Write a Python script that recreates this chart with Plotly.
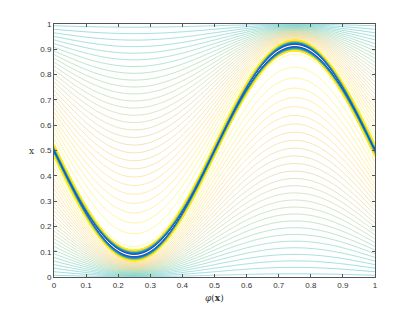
import numpy as np
import plotly.graph_objects as go

# --- values ---
curve_center = 0.5      # x of the ridge curve at phi = 0
curve_amp = 0.415       # amplitude of the ridge curve
band_half = 0.022       # half width (in x) of the dense blue band
band_power = 2.0
boundary_level = 0.42   # field value reached at x = 0 and x = 1
decay_power = 1.25
band_levels = (0.04, 0.99, 0.03)     # start, end, step of band contours
field_levels = (0.43, 0.99, 0.02)    # start, end, step of outer contours
x_ticks = [0, 0.1, 0.2, 0.3, 0.4, 0.5, 0.6, 0.7, 0.8, 0.9, 1]
y_ticks = [0, 0.1, 0.2, 0.3, 0.4, 0.5, 0.6, 0.7, 0.8, 0.9, 1]
parula = ['#352a87', '#0f5cdd', '#1481d6', '#06a4ca', '#2eb7a4',
          '#87bf77', '#d1bb59', '#fec832', '#f9fb0e']


def parula_at(v):
    rgb = np.array([[int(c[i:i + 2], 16) for i in (1, 3, 5)] for c in parula], float)
    pos = np.linspace(0, 1, len(parula))
    r, gg, b = (np.interp(v, pos, rgb[:, k]) for k in range(3))
    return f'rgb({r:.0f},{gg:.0f},{b:.0f})'


def sub_scale(lo, hi, n=25):
    return [[t, parula_at(lo + t * (hi - lo))] for t in np.linspace(0, 1, n)]


phi = np.linspace(0, 1, 321)
xs = np.linspace(0, 1, 801)
P, X = np.meshgrid(phi, xs)
g = curve_center - curve_amp * np.sin(2 * np.pi * P)
d = X - g
u = np.where(d >= 0, d / (1 - g), -d / g)
u = np.clip(u, 0, 1)
Z_band = np.round(np.clip(np.abs(d) / band_half, 0, 1) ** band_power, 4)
Z_field = np.round(boundary_level + (1 - boundary_level) * (1 - u ** decay_power), 4)

fig = go.Figure()
fig.add_trace(go.Contour(
    x=phi, y=xs, z=Z_field,
    colorscale=sub_scale(field_levels[0], field_levels[1]), showscale=False,
    contours=dict(start=field_levels[0], end=field_levels[1],
                  size=field_levels[2], coloring='lines'),
    line=dict(width=0.5), opacity=0.85, hoverinfo='skip',
))
fig.add_trace(go.Contour(
    x=phi, y=xs, z=Z_band,
    colorscale=sub_scale(band_levels[0], band_levels[1]), showscale=False,
    contours=dict(start=band_levels[0], end=band_levels[1],
                  size=band_levels[2], coloring='lines'),
    line=dict(width=1), hoverinfo='skip',
))

axis_common = dict(range=[0, 1], showgrid=False, zeroline=False,
                   showline=True, linecolor='#555', linewidth=1,
                   mirror='ticks', ticks='inside', ticklen=3,
                   tickcolor='#555', tickfont=dict(family='Liberation Sans',
                                                   size=8, color='#333'))
fig.update_xaxes(tickvals=x_ticks, ticktext=[f'{v:g}' for v in x_ticks],
                 **axis_common)
fig.update_yaxes(tickvals=y_ticks, ticktext=[f'{v:g}' for v in y_ticks],
                 **axis_common)

fig.update_layout(
    width=415, height=312,
    margin=dict(l=46, r=48, t=16, b=43),
    paper_bgcolor='white', plot_bgcolor='white',
    annotations=[
        dict(text='<i>φ</i>(<b>x</b>)', x=0.5, y=-0.055, xref='paper',
             yref='paper', xanchor='center', yanchor='top', showarrow=False,
             font=dict(family='DejaVu Serif', size=9, color='#333')),
        dict(text='x', x=-0.055, y=0.5, xref='paper', yref='paper',
             xanchor='right', yanchor='middle', showarrow=False,
             font=dict(family='DejaVu Serif', size=9, color='#333')),
    ],
)

fig.write_html('out.html')
